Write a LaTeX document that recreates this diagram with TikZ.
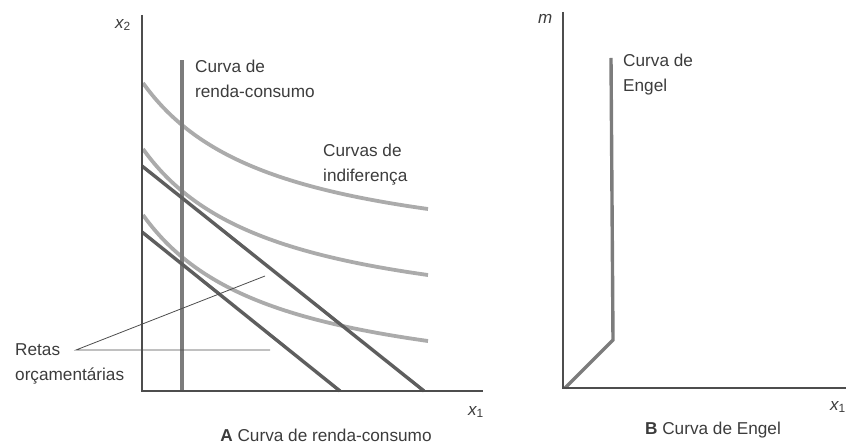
\documentclass[tikz,border=0pt]{standalone}
\usepackage{fontspec}
\setmainfont{Liberation Sans}
\usetikzlibrary{positioning}

\definecolor{axisgray}{HTML}{4D4D4D}
\definecolor{textgray}{HTML}{3C3C3C}
\definecolor{budgetgray}{HTML}{5E5E5E}
\definecolor{icgray}{HTML}{ABABAB}
\definecolor{pathgray}{HTML}{7C7C7C}

\tikzset{
    lbl/.style={text=textgray, font=\fontsize{17.2}{25}\selectfont, align=left, inner sep=0pt},
    axlbl/.style={text=textgray, font=\fontsize{17}{20}\selectfont\itshape, inner sep=0pt, anchor=west},
    axisline/.style={draw=axisgray, line width=1.3pt},
    indiff/.style={draw=icgray, line width=3.8pt},
    budget/.style={draw=budgetgray, line width=3.4pt},
    incpath/.style={draw=pathgray, line width=3.4pt},
    pointer/.style={draw=axisgray, line width=0.8pt}
}

\begin{document}
\begin{tikzpicture}[x=10pt, y=10pt]
    \useasboundingbox (-14.2,-5.5) rectangle (70.4,39.1);

    % A: curva de renda-consumo
    \coordinate (O) at (0,0);
    \coordinate (Ytop) at (0,37.6);
    \coordinate (Xend) at (34.1,0);

    \foreach \k in {0,1,2}
        \draw[indiff] plot[domain=0.1:28.6, samples=60, smooth]
            (\x, {12.35+244.06/(\x+13.13)-6.6*\k});

    \draw[incpath] (4,0) -- (4,33.1);

    \draw[budget] (0,22.5) -- (28.2,0);
    \draw[budget] (0,15.9) -- (19.8,0);

    \draw[axisline] (Ytop) -- (O) -- (Xend);

    \node[axlbl] (x2) at (-2.7,36.6) {x\textsubscript{\upshape 2}};
    \node[axlbl] (x1a) at (32.6,-2.1) {x\textsubscript{\upshape 1}};

    \node[lbl, anchor=north west] (rendacons) at (5.3,33.1) {Curva de\\renda-consumo};
    \node[lbl, anchor=north west] (indiflbl) at (18.1,24.7) {Curvas de\\indiferença};
    \node[lbl, anchor=north west] (retas) at (-12.7,4.8) {Retas\\orçamentárias};

    \coordinate (ptr) at (-6.6,4.1);
    \coordinate (tipA) at (12.3,11.5);
    \coordinate (tipB) at (12.8,4.1);
    \draw[pointer] (tipA) -- (ptr) -- (tipB);

    \node[lbl] (capA) at (18.4,-4.4) {\textbf{A} Curva de renda-consumo};

    % B: curva de Engel
    \coordinate (OB) at (42.1,0.3);
    \coordinate (Mtop) at (42.1,37.9);
    \coordinate (XBend) at (71.0,0.3);
    \coordinate (kink) at (47.1,5.1);
    \coordinate (Etop) at (46.9,33.3);

    \draw[incpath, line join=miter] (42.3,0.3) -- (kink) -- (Etop);
    \draw[axisline] (Mtop) -- (OB) -- (XBend);

    \node[axlbl] (m) at (39.6,37.2) {m};
    \node[axlbl] (x1b) at (68.8,-1.6) {x\textsubscript{\upshape 1}};

    \node[lbl, anchor=north west] (engellbl) at (48.1,33.7) {Curva de\\Engel};

    \node[lbl] (capB) at (57.1,-3.9) {\textbf{B} Curva de Engel};
\end{tikzpicture}
\end{document}
